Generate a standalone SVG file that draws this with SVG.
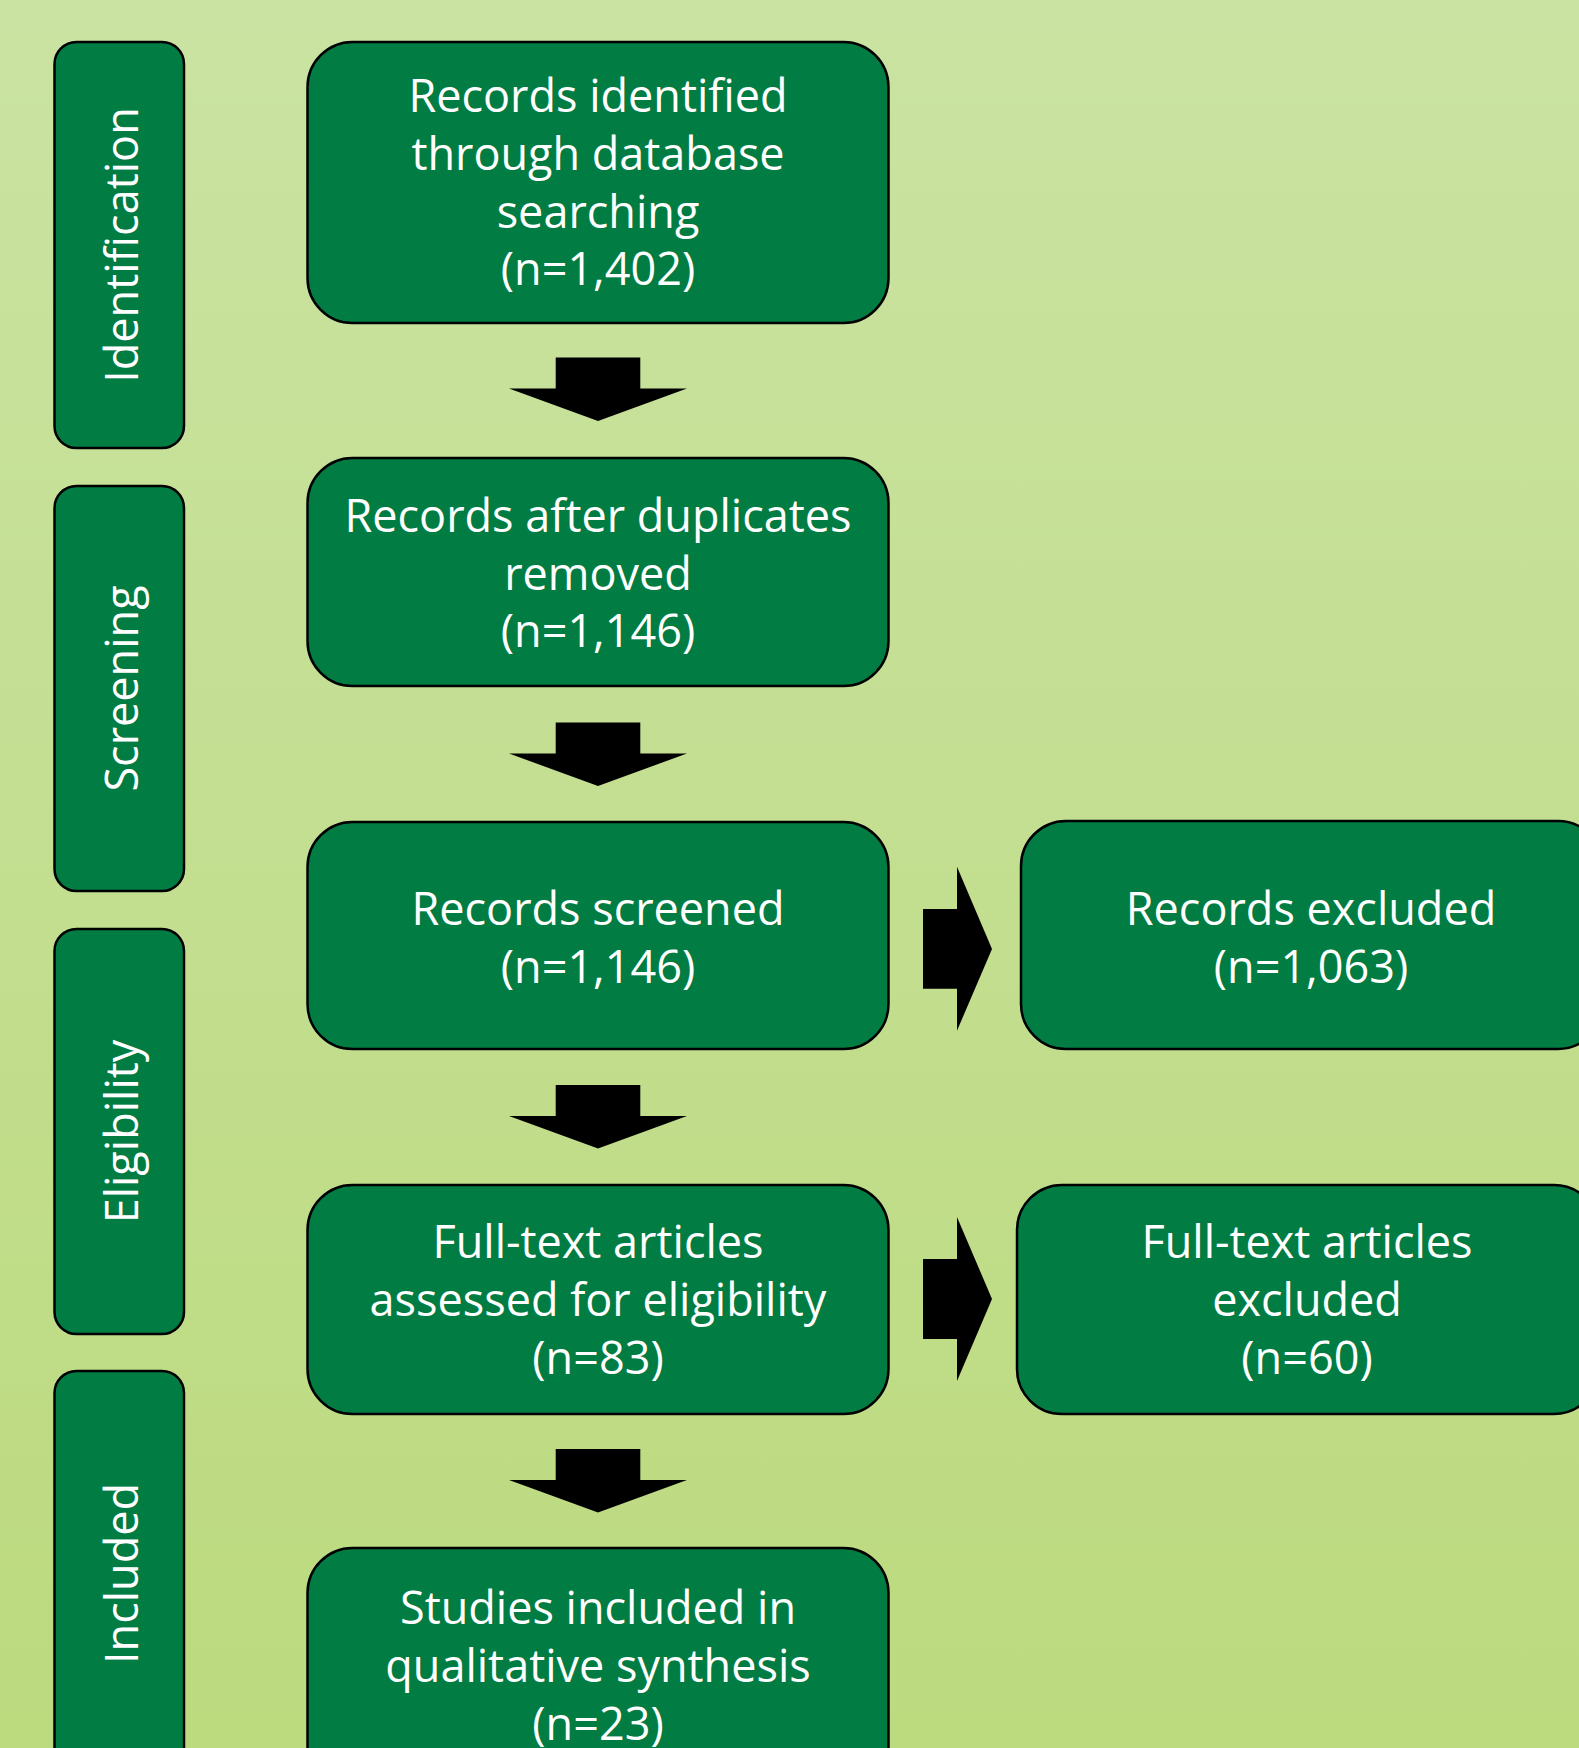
<svg xmlns="http://www.w3.org/2000/svg" width="1579" height="1748" viewBox="0 0 1579 1748">
<defs>
<linearGradient id="bg" x1="0" y1="0" x2="0" y2="1">
<stop offset="0" stop-color="#CAE3A2"/>
<stop offset="1" stop-color="#BCDA7E"/>
</linearGradient>
<style>
.box{fill:#017C42;stroke:#000;stroke-width:2.5}
.t{font-family:"Open Sans","Noto Sans",sans-serif;font-size:45px;fill:#fff;text-anchor:middle}
.s{font-family:"Open Sans","Noto Sans",sans-serif;font-size:45px;fill:#fff;text-anchor:middle}
.arr{fill:#000}
</style>
</defs>
<rect x="0" y="0" width="1579" height="1748" fill="url(#bg)"/>

<g id="stage-identification">
<rect class="box" x="54.5" y="42" width="129.5" height="406" rx="22"/>
<text class="s" transform="translate(138,245) rotate(-90)">Identification</text>
</g>
<g id="stage-screening">
<rect class="box" x="54.5" y="486" width="129.5" height="405" rx="22"/>
<text class="s" transform="translate(138,688.5) rotate(-90)">Screening</text>
</g>
<g id="stage-eligibility">
<rect class="box" x="54.5" y="929" width="129.5" height="405" rx="22"/>
<text class="s" transform="translate(138,1131.5) rotate(-90)">Eligibility</text>
</g>
<g id="stage-included">
<rect class="box" x="54.5" y="1371" width="129.5" height="405" rx="22"/>
<text class="s" transform="translate(138,1573.5) rotate(-90)">Included</text>
</g>

<g id="identified">
<rect class="box" x="307.5" y="42" width="581" height="281" rx="45"/>
<text class="t" x="598" y="112">Records identified</text>
<text class="t" x="598" y="170">through database</text>
<text class="t" x="598" y="228">searching</text>
<text class="t" x="598" y="285">(n=1,402)</text>
</g>
<g id="deduplicated">
<rect class="box" x="307.5" y="458" width="581" height="228" rx="45"/>
<text class="t" x="598" y="532">Records after duplicates</text>
<text class="t" x="598" y="590">removed</text>
<text class="t" x="598" y="647">(n=1,146)</text>
</g>
<g id="screened">
<rect class="box" x="307.5" y="822" width="581" height="227" rx="45"/>
<text class="t" x="598" y="925">Records screened</text>
<text class="t" x="598" y="983">(n=1,146)</text>
</g>
<g id="excluded">
<rect class="box" x="1021" y="821" width="582" height="228" rx="45"/>
<text class="t" x="1311" y="925">Records excluded</text>
<text class="t" x="1311" y="983">(n=1,063)</text>
</g>
<g id="fulltext">
<rect class="box" x="307.5" y="1185" width="581" height="229" rx="45"/>
<text class="t" x="598" y="1258">Full-text articles</text>
<text class="t" x="598" y="1316">assessed for eligibility</text>
<text class="t" x="598" y="1374">(n=83)</text>
</g>
<g id="fulltext-excluded">
<rect class="box" x="1017" y="1185" width="582" height="229" rx="45"/>
<text class="t" x="1307" y="1258">Full-text articles</text>
<text class="t" x="1307" y="1316">excluded</text>
<text class="t" x="1307" y="1374">(n=60)</text>
</g>
<g id="included">
<rect class="box" x="307.5" y="1548" width="581" height="260" rx="45"/>
<text class="t" x="598" y="1624">Studies included in</text>
<text class="t" x="598" y="1682">qualitative synthesis</text>
<text class="t" x="598" y="1740">(n=23)</text>
</g>

<g id="connectors">
<polygon class="arr" points="555.7,357.5 640.3,357.5 640.3,388.5 687,388.5 598,421 509,388.5 555.7,388.5"/>
<polygon class="arr" points="555.7,722.5 640.3,722.5 640.3,753.5 687,753.5 598,786 509,753.5 555.7,753.5"/>
<polygon class="arr" points="555.7,1085 640.3,1085 640.3,1116 687,1116 598,1148.5 509,1116 555.7,1116"/>
<polygon class="arr" points="555.7,1449 640.3,1449 640.3,1480 687,1480 598,1512.5 509,1480 555.7,1480"/>
<polygon class="arr" points="923,909 957,909 957,866.7 992,949 957,1030.7 957,988.7 923,988.7"/>
<polygon class="arr" points="923,1259 957,1259 957,1217 992,1299 957,1381 957,1339 923,1339"/>
</g>
</svg>
